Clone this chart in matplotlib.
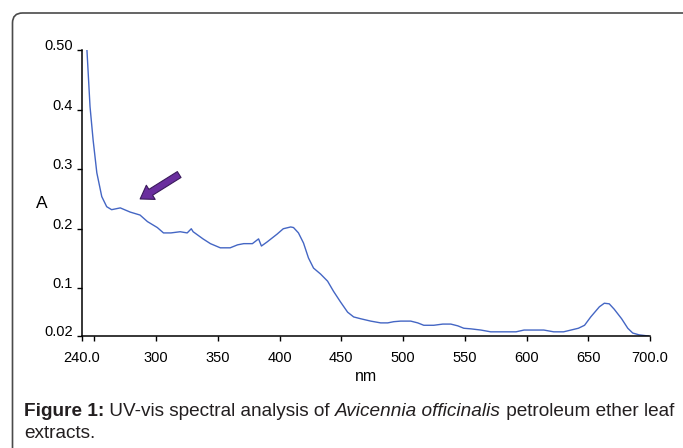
import matplotlib
matplotlib.use("Agg")
import matplotlib.pyplot as plt
from matplotlib.patches import FancyBboxPatch
from matplotlib.transforms import IdentityTransform, ScaledTranslation

plt.rcParams['font.family'] = ['Liberation Sans', 'DejaVu Sans']

wavelength = [244, 246.5, 249, 252, 256, 260, 264, 271, 279, 287, 293, 301, 306, 312,
              319.5, 325.2, 328.5, 330, 338, 344, 352, 360, 366, 371, 378, 383, 385.3,
              390, 398, 403, 409, 411.3, 415.3, 419.4, 423.4, 427.5, 433.2, 438.9, 443.7,
              449.4, 455.1, 460, 465.6, 473.8, 481.9, 487.6, 492.4, 498.1, 506.2, 511.9,
              516.8, 524.9, 532.2, 538.7, 544.4, 549.2, 554.9, 563, 571, 580, 591.5, 598,
              614, 622, 630, 642, 647, 652, 659, 663, 667, 671, 677, 682, 686, 691, 698.6]
absorbance = [0.50, 0.405, 0.349, 0.294, 0.254, 0.237, 0.232, 0.235, 0.228, 0.223, 0.212,
              0.202, 0.193, 0.193, 0.195, 0.193, 0.200, 0.195, 0.183, 0.175, 0.168, 0.168,
              0.173, 0.175, 0.175, 0.183, 0.171, 0.178, 0.191, 0.200, 0.203, 0.202, 0.193,
              0.176, 0.151, 0.134, 0.124, 0.112, 0.095, 0.077, 0.060, 0.052, 0.049, 0.045,
              0.042, 0.042, 0.044, 0.045, 0.045, 0.042, 0.038, 0.038, 0.040, 0.040, 0.037,
              0.033, 0.032, 0.030, 0.027, 0.027, 0.027, 0.030, 0.030, 0.027, 0.027, 0.033,
              0.038, 0.052, 0.069, 0.075, 0.074, 0.065, 0.049, 0.033, 0.025, 0.022, 0.020]

xticks = [240, 250, 300, 350, 400, 450, 500, 550, 600, 650, 700]
xtick_labels = ["240.0", "", "300", "350", "400", "450", "500", "550", "600", "650", "700.0"]
yticks = [0.02, 0.1, 0.2, 0.3, 0.4, 0.50]
ytick_labels = ["0.02", "0.1", "0.2", "0.3", "0.4", "0.50"]

arrow_tip = (287.1, 0.250)
arrow_tail = (318.7, 0.291)

W, H = 683, 448
fig = plt.figure(figsize=(W / 100, H / 100), dpi=100)
ax = fig.add_axes([82 / W, 1 - 336 / H, (650 - 82) / W, (336 - 50) / H])

ax.plot(wavelength, absorbance, color='#4466c4', lw=1.0)
ax.set_xlim(240, 700)
ax.set_ylim(0.02, 0.50)
ax.set_xticks(xticks)
ax.set_xticklabels(xtick_labels, fontsize=10.5)
ax.set_yticks(yticks)
ax.set_yticklabels(ytick_labels, fontsize=10.5)
ax.spines['top'].set_visible(False)
ax.spines['right'].set_visible(False)
for s in ['left', 'bottom']:
    ax.spines[s].set_linewidth(1.1)
    ax.spines[s].set_color('black')
ax.tick_params(axis='both', direction='out', length=3.5, width=1.0, colors='black')
ax.tick_params(axis='x', pad=7.5)
ax.tick_params(axis='y', pad=3)
shift = ScaledTranslation(0, 4 / 72, fig.dpi_scale_trans)
for lab in ax.get_yticklabels():
    lab.set_transform(lab.get_transform() + shift)

ax.set_xlabel('nm', fontsize=11.5, labelpad=3)
ax.set_ylabel('A', fontsize=12.5, rotation=0, va='center', ha='center')
ax.yaxis.set_label_coords((42 - 82) / 568, (336 - 203) / 286)

ax.annotate('', xy=arrow_tip, xytext=arrow_tail,
            arrowprops=dict(arrowstyle='simple,head_length=0.9,head_width=1.2,tail_width=0.5',
                            mutation_scale=10, fc='#6a2e9e', ec='#3b1a5c', lw=0.8,
                            shrinkA=0, shrinkB=0))

# frame
frame = FancyBboxPatch((12.5, -40), 720, H - 13 + 40, boxstyle='round,pad=0,rounding_size=10',
                       transform=IdentityTransform(), fill=False, ec='#4a4a4a', lw=1.2)
fig.patches.append(frame)
frame.set_figure(fig)

# caption with mixed styles
renderer = fig.canvas.get_renderer()
x = 24 / W
y1 = 1 - 411 / H
pieces = [("Figure 1:", dict(weight='bold')),
          (" UV-vis spectral analysis of ", {}),
          ("Avicennia officinalis", dict(style='italic')),
          (" petroleum ether leaf", {})]
for txt, kw in pieces:
    t = fig.text(x, y1, txt, fontsize=13.7, va='center', ha='left', color='#231f20', **kw)
    bb = t.get_window_extent(renderer=renderer)
    x += bb.width / W
fig.text(24 / W, 1 - 433 / H, "extracts.", fontsize=13.7, va='center', ha='left', color='#231f20')

fig.savefig('out.png', dpi=100)
